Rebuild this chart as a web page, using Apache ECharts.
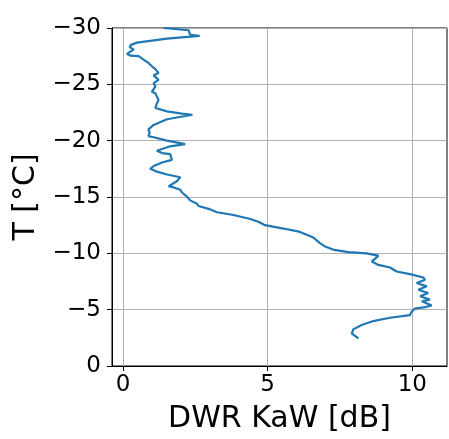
<!DOCTYPE html>
<html>
<head>
<meta charset="utf-8">
<script src="https://cdn.jsdelivr.net/npm/echarts@6/dist/echarts.min.js"></script>
<style>
  html, body { margin: 0; padding: 0; background: #fff; }
  #chart { width: 449px; height: 439px; }
</style>
</head>
<body>
<div id="chart"></div>
<script>
// Vertical profile of the Ka-W dual wavelength ratio against temperature
const temperature = [
  -30.0, -29.8, -29.4, -29.3, -29.06, -28.7, -28.5, -28.3, -28.1, -27.7,
  -27.55, -27.5, -27.2, -26.9, -26.6, -26.35, -26.0, -25.8, -25.4, -25.1,
  -24.8, -24.35, -24.2, -23.6, -23.3, -22.9, -22.6, -22.4, -22.3, -21.9,
  -21.4, -21.0, -20.7, -20.4, -20.3, -20.0, -19.7, -19.5, -19.1, -18.9,
  -18.8, -18.3, -18.06, -17.75, -17.5, -17.3, -17.0, -16.75, -16.4, -15.95,
  -15.9, -15.65, -15.4, -15.06, -14.7, -14.4, -14.2, -13.95, -13.65, -13.4,
  -13.05, -12.8, -12.5, -12.2, -11.9, -11.4, -10.9, -10.6, -10.3, -10.1,
  -10.0, -9.8, -9.27, -8.97, -8.74, -8.39, -8.15, -7.86, -7.65, -7.36,
  -7.07, -6.77, -6.48, -6.19, -5.89, -5.75, -5.37, -5.23, -5.1, -4.81,
  -4.52, -4.28, -3.99, -3.64, -3.25, -2.88, -2.46
];
const dwrKaW = [
  1.40, 2.27, 2.32, 2.65, 1.52, 0.48, 0.28, 0.23, 0.37, 0.14,
  0.25, 0.54, 0.71, 0.88, 1.00, 1.12, 1.23, 1.06, 1.23, 1.06,
  1.12, 1.00, 1.12, 1.23, 1.17, 1.12, 1.52, 2.04, 2.40, 1.52,
  1.06, 0.88, 0.92, 0.88, 1.06, 1.52, 2.15, 1.63, 1.17, 1.35,
  1.63, 1.69, 1.35, 1.06, 0.94, 1.12, 1.52, 1.98, 1.86, 1.58,
  1.69, 1.98, 2.04, 2.20, 2.32, 2.56, 2.61, 2.96, 3.25, 3.82,
  4.40, 4.68, 4.91, 5.55, 6.12, 6.58, 6.81, 6.99, 7.30, 7.80,
  8.42, 8.83, 8.60, 8.83, 9.23, 9.46, 9.92, 10.38, 10.44, 10.15,
  10.50, 10.21, 10.55, 10.27, 10.61, 10.33, 10.67, 10.44, 10.09, 9.98,
  9.92, 9.23, 8.65, 8.25, 7.96, 7.91, 8.14
];
const xTicks = [0, 5, 10];
const xLabel = 'DWR KaW [dB]';
const yLabel = 'T [°C]';

const font = 'DejaVu Sans';
const minus = v => String(v).replace('-', '\u2212');

const chart = echarts.init(document.getElementById('chart'), null, { renderer: 'canvas' });
chart.setOption({
  animation: false,
  backgroundColor: '#ffffff',
  grid: {
    left: 112, right: 2, top: 28, bottom: 70,
    show: true, borderColor: '#000', borderWidth: 1, backgroundColor: 'transparent'
  },
  xAxis: {
    type: 'value',
    min: -0.38, max: 11.2,
    name: xLabel,
    nameLocation: 'middle',
    nameGap: 38,
    nameTextStyle: { fontFamily: font, fontSize: 30, color: '#000' },
    axisLine: { show: true, onZero: false, lineStyle: { color: '#000', width: 1 } },
    axisTick: { show: true, inside: false, length: 5, customValues: xTicks, lineStyle: { color: '#000', width: 1 } },
    axisLabel: { customValues: xTicks, fontFamily: font, fontSize: 23, color: '#000', margin: 8, formatter: minus },
    splitLine: { show: true, lineStyle: { color: '#b0b0b0', width: 1 } }
  },
  yAxis: {
    type: 'value',
    inverse: true,
    min: -30, max: 0, interval: 5,
    name: yLabel,
    nameLocation: 'middle',
    nameGap: 69,
    nameRotate: 90,
    nameTextStyle: { fontFamily: font, fontSize: 30, color: '#000' },
    axisLine: { show: true, onZero: false, lineStyle: { color: '#000', width: 1 } },
    axisTick: { show: true, inside: false, length: 5, lineStyle: { color: '#000', width: 1 } },
    axisLabel: { fontFamily: font, fontSize: 23, color: '#000', margin: 11, formatter: minus },
    splitLine: { show: true, lineStyle: { color: '#b0b0b0', width: 1 } }
  },
  series: [{
    type: 'line',
    data: temperature.map((t, i) => [dwrKaW[i], t]),
    showSymbol: false,
    smooth: false,
    clip: true,
    lineStyle: { color: '#1f77b4', width: 2.2 }
  }]
});
</script>
</body>
</html>
